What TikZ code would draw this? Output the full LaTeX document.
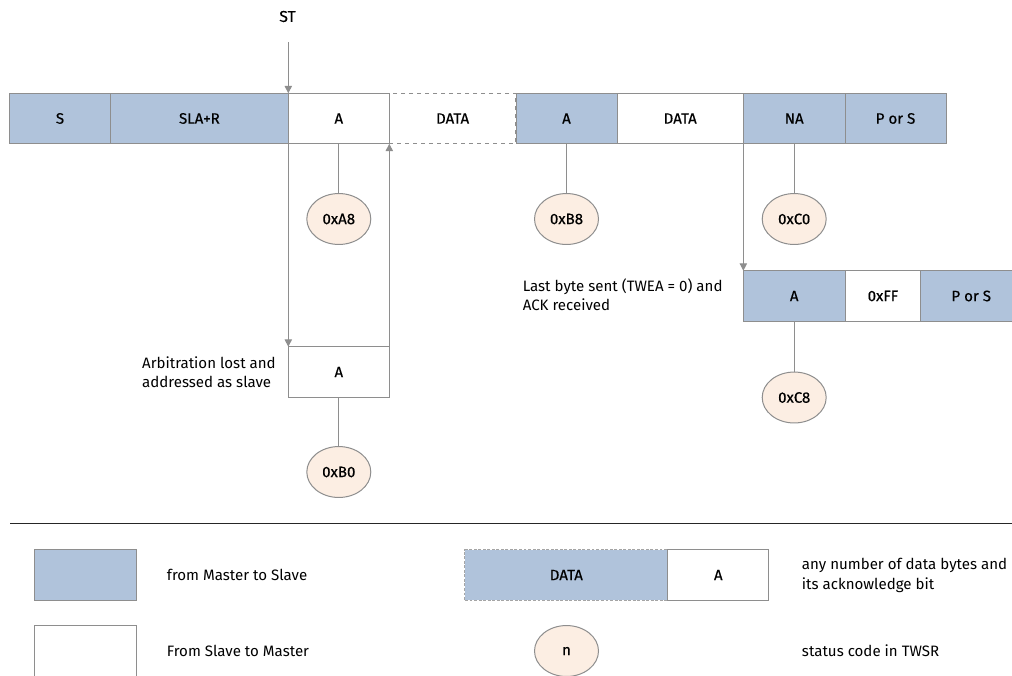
\documentclass[tikz,border=0pt]{standalone}
\usepackage{fontspec}
\setmainfont{Fira Sans}
\newfontfamily\boxfont[FakeBold=0.45]{Fira Sans}
\usetikzlibrary{shapes.geometric,arrows.meta}
\definecolor{mblue}{HTML}{B0C3DB}
\definecolor{ovfill}{HTML}{FCEEE3}
\definecolor{edge}{HTML}{8E8E8E}
\tikzset{
  base/.style={rectangle,draw=edge,line width=0.75pt,inner sep=0pt,outer sep=0pt,
    minimum height=37.9pt,font=\boxfont\fontsize{11.3}{13}\selectfont,text=black},
  mbox/.style={base,fill=mblue},
  sbox/.style={base,fill=white},
  dbox/.style={base,dashed,dash pattern=on 2.2pt off 1.2pt,draw=edge!80},
  code/.style={ellipse,draw=edge,line width=0.75pt,fill=ovfill,inner sep=0pt,
    minimum width=48pt,minimum height=38.2pt,font=\boxfont\fontsize{11.3}{13}\selectfont},
  conn/.style={draw=edge,line width=0.75pt},
  arr/.style={conn,-{Triangle[width=5.5pt,length=5.5pt]}},
  lbl/.style={font=\fontsize{11.3}{14.5}\selectfont,align=left,inner sep=0pt,text=black}
}
\begin{document}
\begin{tikzpicture}[x=0.75pt,y=-0.75pt]
\clip (0,0) rectangle (1012,675);
\fill[white] (0,0) rectangle (1012,675);
% top row
\node[dbox,sbox,dashed,minimum width=95pt] (D1) at (452.6,118.5) {DATA};
\node[mbox,minimum width=75.75pt] (S) at (60,118.5) {S};
\node[mbox,minimum width=133.35pt] (SLA) at (199.4,118.5) {SLA+R};
\node[sbox,minimum width=75.75pt] (A1) at (338.8,118.5) {A};
\node[mbox,minimum width=75.75pt] (A2) at (566.5,118.5) {A};
\node[sbox,minimum width=94.7pt] (D2) at (680.2,118.5) {DATA};
\node[mbox,minimum width=76.3pt] (NA) at (794.2,118.5) {NA};
\node[mbox,minimum width=75.75pt] (PS) at (895.5,118.5) {P or S};
% lower right row
\node[mbox,minimum width=76.3pt] (A3) at (794.2,296) {A};
\node[sbox,minimum width=56.8pt] (FF) at (882.9,296) {0xFF};
\node[mbox,minimum width=75.75pt] (PS2) at (971.2,296) {P or S};
% lower A box
\node[sbox,minimum width=75.75pt] (AL) at (338.8,372) {A};
% status codes
\node[code] (a8) at (338.8,219) {0xA8};
\node[code] (b8) at (566.5,219) {0xB8};
\node[code] (c0) at (794.2,219) {0xC0};
\node[code] (b0) at (338.8,472) {0xB0};
\node[code] (c8) at (794.2,397.5) {0xC8};
% labels
\node[lbl,font=\boxfont\fontsize{11.8}{14}\selectfont] (st) at (287.5,16.5) {ST};
\coordinate (stc) at (288.3,42);
\node[lbl,anchor=west] (last) at (522.5,295) {Last byte sent (TWEA = 0) and\\ACK received};
\node[lbl,anchor=east] (arb) at (276,372) {Arbitration lost and\\addressed as slave};
% connectors
\draw[arr] (stc) -- (A1.north west);
\draw[conn] (A1.south) -- (a8.north);
\draw[conn] (A2.south) -- (b8.north);
\draw[conn] (NA.south) -- (c0.north);
\draw[arr] (A1.south west) -- (AL.north west);
\draw[arr] (AL.north east) -- (A1.south east);
\draw[conn] (AL.south) -- (b0.north);
\draw[arr] (NA.south west) -- (A3.north west);
\draw[conn] (A3.south) -- (c8.north);
% separator
\coordinate (r1) at (10,523.5);
\coordinate (r2) at (1012,523.5);
\draw[line width=0.9pt,black!85] (r1) -- (r2);
% legend
\node[mbox,minimum width=76.3pt] (lm) at (85.8,575) {};
\node[lbl,anchor=west] (lmt) at (166.7,575) {from Master to Slave};
\node[sbox,minimum width=76.3pt] (ls) at (85.8,651) {};
\node[lbl,anchor=west] (lst) at (166.7,651) {From Slave to Master};
\node[dbox,fill=mblue,minimum width=152pt] (ld) at (566.3,575) {DATA};
\node[sbox,minimum width=76pt] (la) at (718.3,575) {A};
\node[lbl,anchor=west] (ldt) at (801.7,575.5) {any number of data bytes and\\its acknowledge bit};
\node[code] (ln) at (566.5,651) {n};
\node[lbl,anchor=west] (lnt) at (801.7,651) {status code in TWSR};
\end{tikzpicture}
\end{document}
